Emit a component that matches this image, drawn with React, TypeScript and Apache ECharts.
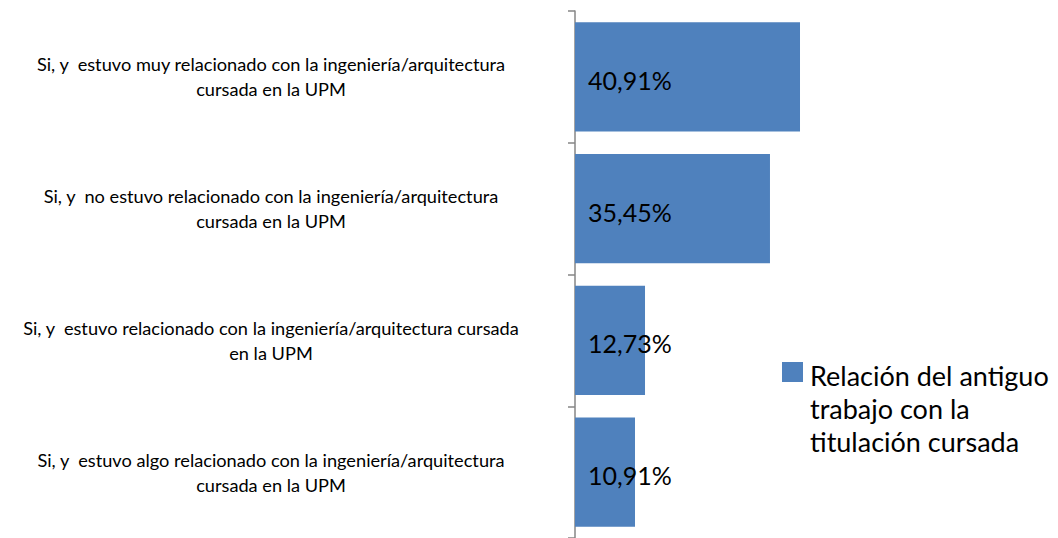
import React, { useEffect, useRef } from "react";
import * as echarts from "echarts";

const categories = [
  "Si, y  estuvo muy relacionado con la ingeniería/arquitectura\ncursada en la UPM",
  "Si, y  no estuvo relacionado con la ingeniería/arquitectura\ncursada en la UPM",
  "Si, y  estuvo relacionado con la ingeniería/arquitectura cursada\nen la UPM",
  "Si, y  estuvo algo relacionado con la ingeniería/arquitectura\ncursada en la UPM",
];
const values = [40.91, 35.45, 12.73, 10.91];
const seriesName = "Relación del antiguo\ntrabajo con la\ntitulación cursada";
const BLUE = "#4F81BD";
const FONT = "Lato";

export default function App() {
  const ref = useRef<HTMLDivElement>(null);
  useEffect(() => {
    document.body.style.margin = "0";
    const chart = echarts.init(ref.current!, null, { renderer: "svg" });
    chart.setOption({
      animation: false,
      textStyle: { fontFamily: FONT },
      grid: { left: 575, top: 11, height: 532, width: 247.5 },
      xAxis: {
        type: "value",
        min: 0,
        max: 45,
        show: false,
        splitLine: { show: false },
      },
      yAxis: {
        type: "category",
        inverse: true,
        data: categories,
        axisLine: { show: true, lineStyle: { color: "#868686", width: 1.5 } },
        axisTick: { show: true, length: 7, lineStyle: { color: "#868686", width: 1.5 } },
        axisLabel: {
          interval: 0,
          align: "center",
          margin: 304,
          fontSize: 18.2,
          lineHeight: 25,
          color: "#000",
          fontFamily: FONT,
        },
      },
      series: [
        {
          type: "bar",
          name: seriesName,
          data: values,
          barCategoryGap: "17%",
          itemStyle: { color: BLUE },
          label: {
            show: true,
            position: "insideLeft",
            distance: 13,
            offset: [0, 3],
            fontSize: 25,
            color: "#000",
            fontFamily: FONT,
            formatter: (p: any) => p.value.toFixed(2).replace(".", ",") + "%",
          },
        },
      ],
      graphic: [
        { type: "rect", left: 782, top: 362, shape: { width: 21, height: 20 }, style: { fill: BLUE } },
        {
          type: "text",
          left: 810,
          top: 359,
          style: {
            text: seriesName,
            fontSize: 27,
            lineHeight: 33,
            fill: "#000",
            fontFamily: FONT,
          },
        },
      ],
    });
    return () => chart.dispose();
  }, []);
  return (
    <div
      ref={ref}
      style={{ position: "fixed", left: 0, top: 0, width: 1058, height: 538, background: "#fff" }}
    />
  );
}
